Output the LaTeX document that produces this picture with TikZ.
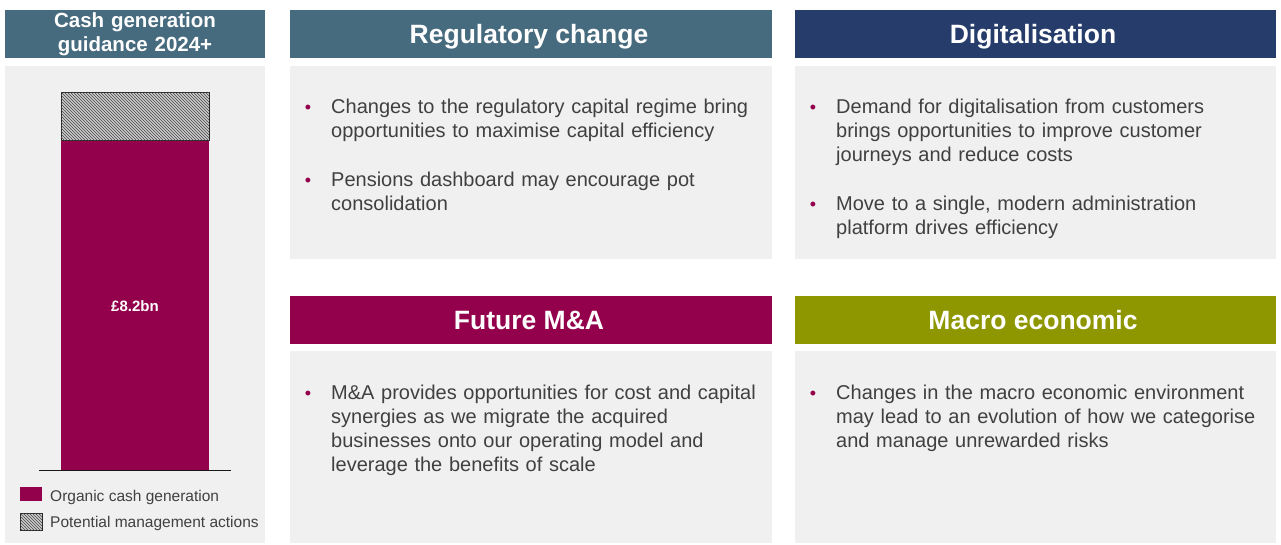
\documentclass[tikz,border=0pt]{standalone}
\usepackage{fontspec}
\setmainfont{Liberation Sans}
\usepackage{xcolor}
\usetikzlibrary{patterns}
\definecolor{steel}{HTML}{466A7E}
\definecolor{navy}{HTML}{263D6B}
\definecolor{berry}{HTML}{93004B}
\definecolor{olive}{HTML}{8E9600}
\definecolor{panelgray}{HTML}{F0F0F0}
\definecolor{bodytext}{HTML}{404040}
\tikzset{
  panel/.style={fill=panelgray,draw=none},
  headtext/.style={text=white,font=\bfseries\fontsize{26.5}{30}\selectfont,anchor=base,inner sep=0pt},
  bodytxt/.style={text=bodytext,font=\fontsize{20}{24}\selectfont,anchor=base west,inner sep=0pt,text width=445pt,align=left},
  dot/.style={text=berry,font=\fontsize{18}{20}\selectfont,anchor=base,inner sep=0pt},
  legtxt/.style={text=bodytext,font=\fontsize{15.5}{18}\selectfont,anchor=base west,inner sep=0pt},
  hatch/.style={fill=gray!40,postaction={pattern=north west lines,pattern color=gray!55!black},draw=gray!30!black,line width=0.8pt}
}
\begin{document}
\begin{tikzpicture}[x=1pt,y=-1pt]
\useasboundingbox (0,0) rectangle (1281,544);
%左列
\fill[steel] (5,10) rectangle (265,58);
\fill[panelgray] (5,66) rectangle (265,543);
\node[text=white,font=\bfseries\fontsize{20.5}{24}\selectfont,text width=260pt,align=center,anchor=base,inner sep=0pt] (cashhead) at (135,27) {Cash generation\\guidance 2024+};
\fill[berry] (61,140) rectangle (209,470);
\draw[hatch] (61,92) rectangle (209,140);
\draw[gray!20!black,line width=0.8pt] (39,470) -- (231,470);
\node[text=white,font=\bfseries\fontsize{15}{18}\selectfont,anchor=base,inner sep=0pt] (total) at (135,311) {£8.2bn};
%图例
\fill[berry] (20,487) rectangle (42,501);
\draw[hatch] (20,513) rectangle (42,530);
\node[legtxt] (legorg) at (50,501.5) {Organic cash generation};
\node[legtxt] (legpot) at (50,527.5) {Potential management actions};
%标题
\fill[steel] (290,10) rectangle (772,58);
\fill[navy] (795,10) rectangle (1276,58);
\fill[berry] (290,296) rectangle (772,344);
\fill[olive] (795,296) rectangle (1276,344);
\node[headtext] (reghead) at (529,43) {Regulatory change};
\node[headtext] (dighead) at (1033,43) {Digitalisation};
\node[headtext] (mahead) at (529,329) {Future M\&A};
\node[headtext] (macrohead) at (1033,329) {Macro economic};
%灰框
\fill[panelgray] (290,66) rectangle (772,259);
\fill[panelgray] (795,66) rectangle (1276,259);
\fill[panelgray] (290,351) rectangle (772,543);
\fill[panelgray] (795,351) rectangle (1276,543);
%Text
\node[dot] (regdota) at (308,113) {•};
\node[bodytxt] (rega) at (331,113) {Changes to the regulatory capital regime bring\\opportunities to maximise capital efficiency};
\node[dot] (regdotb) at (308,186) {•};
\node[bodytxt] (regb) at (331,186) {Pensions dashboard may encourage pot\\consolidation};
\node[dot] (digdota) at (813,113) {•};
\node[bodytxt] (diga) at (836,113) {Demand for digitalisation from customers\\brings opportunities to improve customer\\journeys and reduce costs};
\node[dot] (digdotb) at (813,210) {•};
\node[bodytxt] (digb) at (836,210) {Move to a single, modern administration\\platform drives efficiency};
\node[dot] (madot) at (308,399) {•};
\node[bodytxt] (ma) at (331,399) {M\&A provides opportunities for cost and capital\\synergies as we migrate the acquired\\businesses onto our operating model and\\leverage the benefits of scale};
\node[dot] (macrodot) at (813,399) {•};
\node[bodytxt] (macro) at (836,399) {Changes in the macro economic environment\\may lead to an evolution of how we categorise\\and manage unrewarded risks};
\end{tikzpicture}
\end{document}
